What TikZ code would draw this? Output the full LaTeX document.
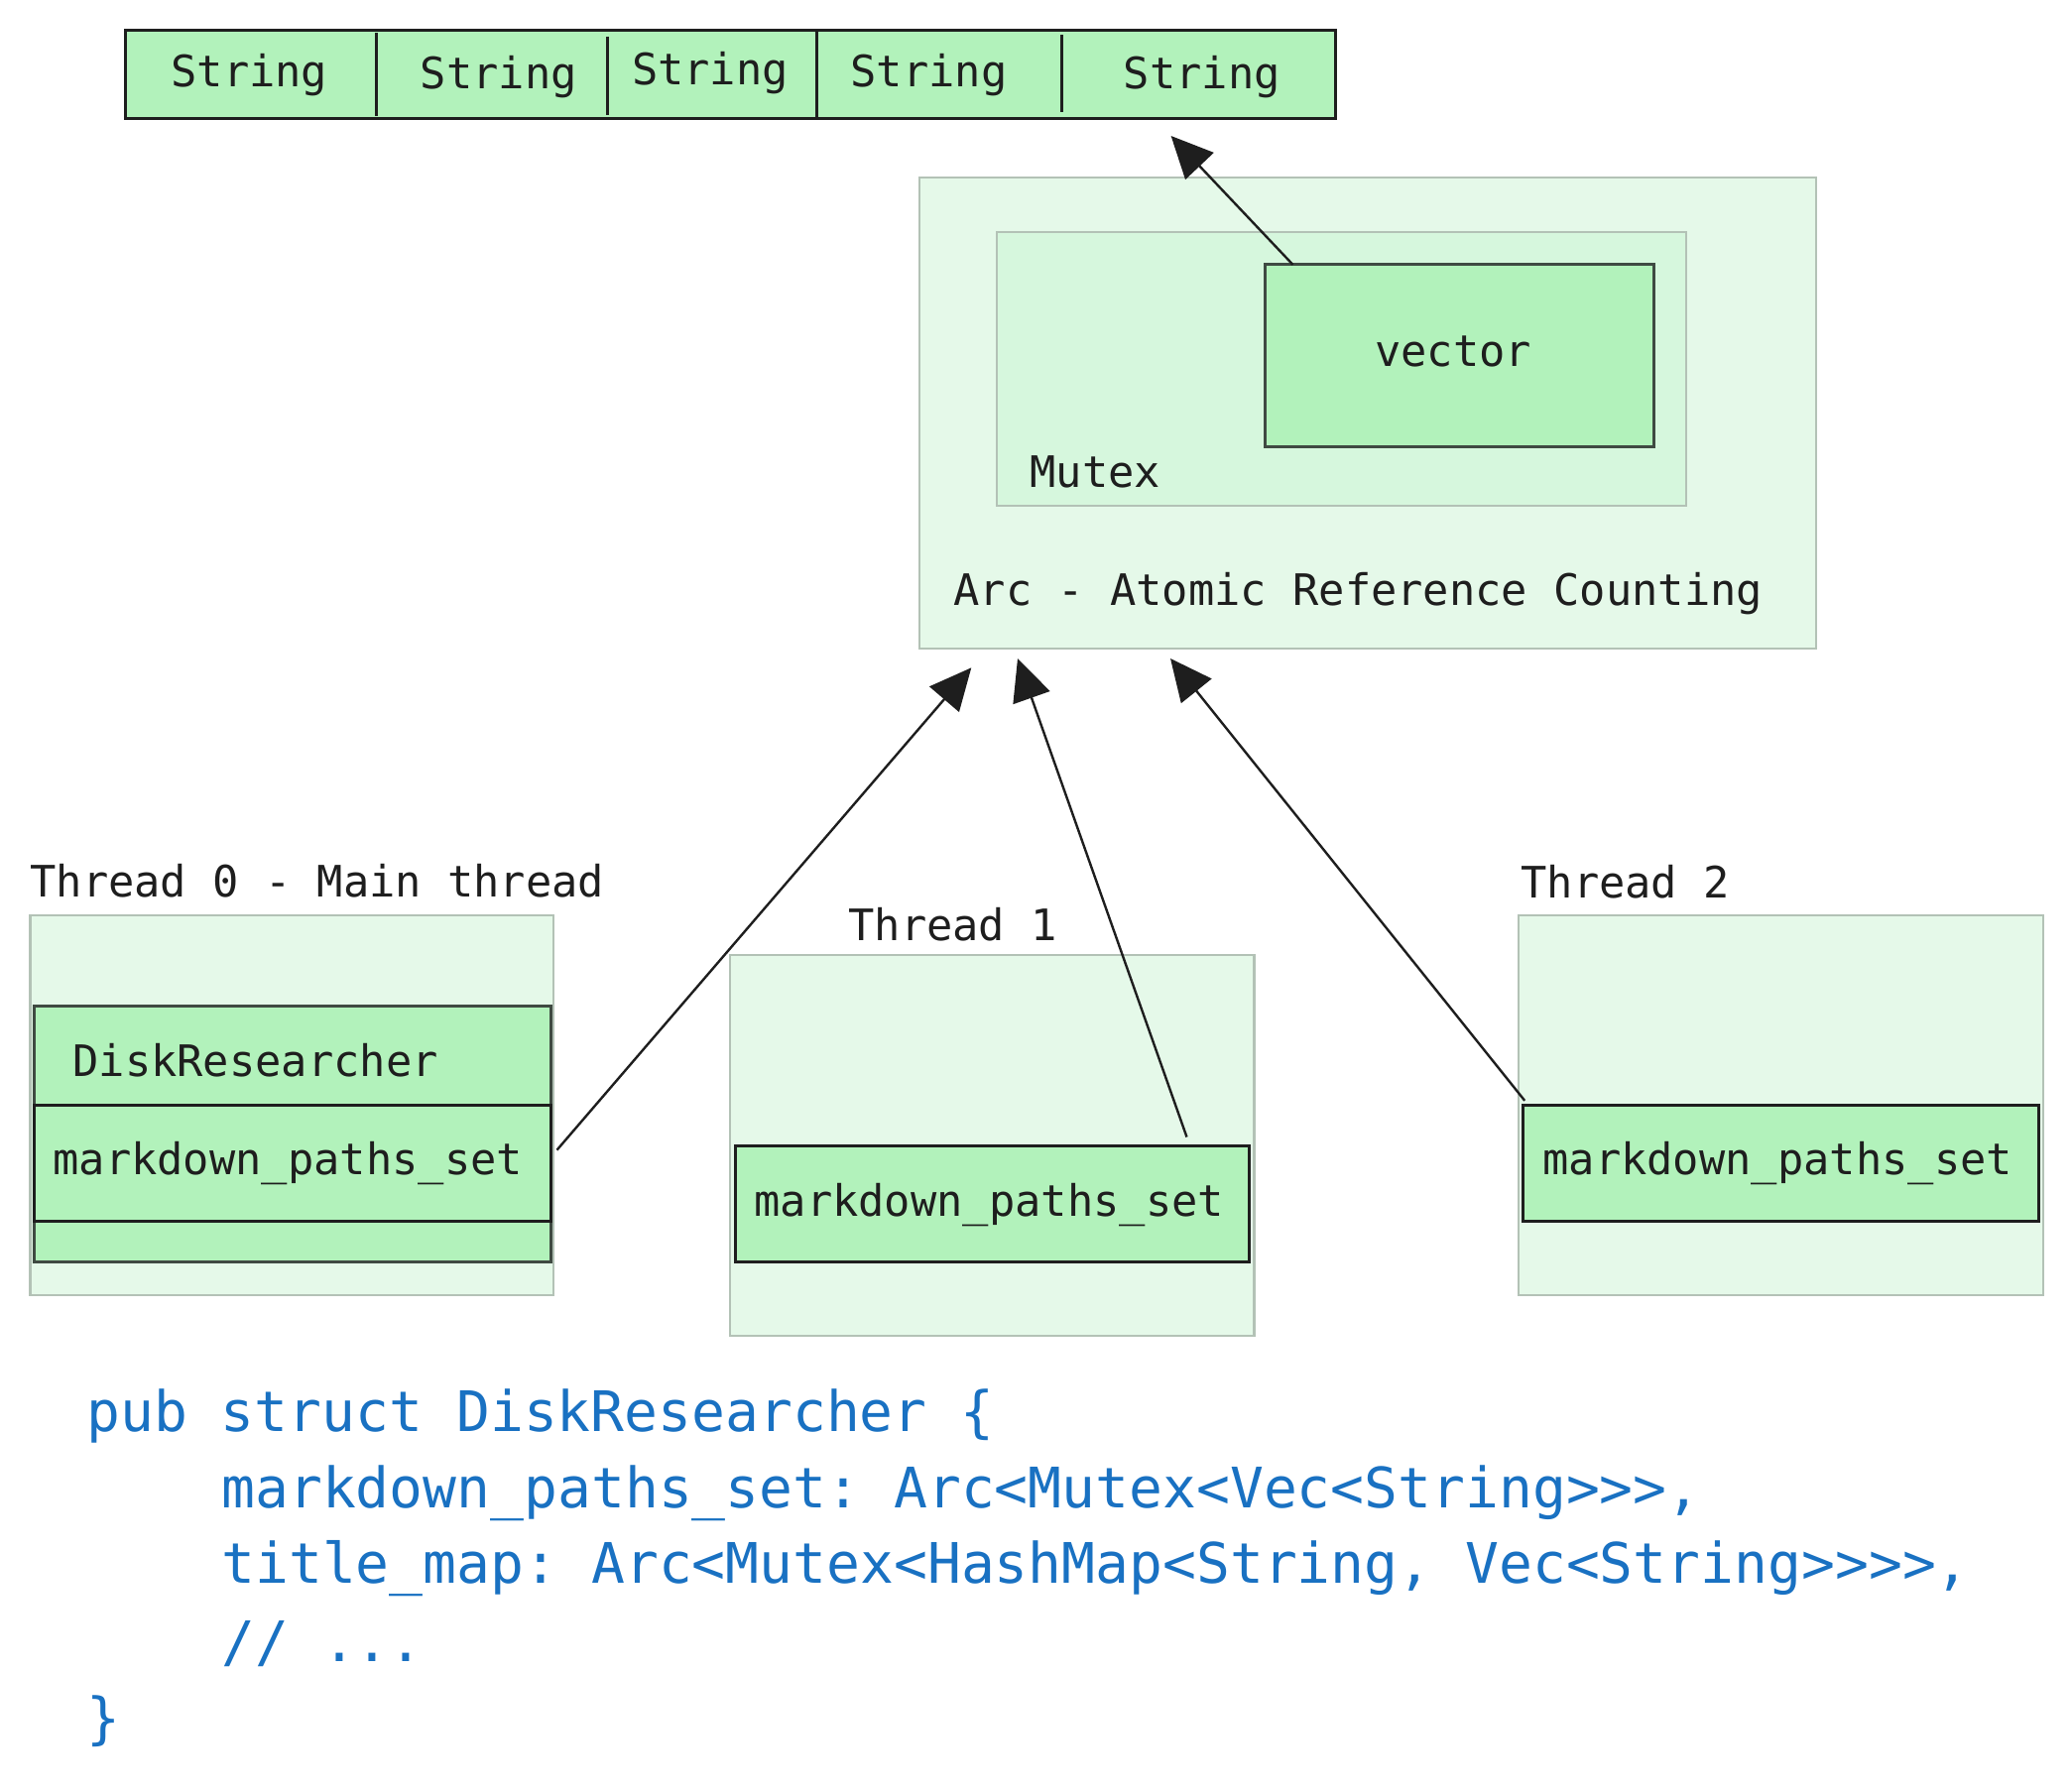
\documentclass[tikz,border=0pt]{standalone}
\usepackage{fontspec}
\setmainfont{DejaVu Sans Mono}[Ligatures=TeXOff]
\usetikzlibrary{arrows.meta,fit}
\frenchspacing
\definecolor{ink}{HTML}{1E1E1E}
\definecolor{nodefill}{HTML}{B2F2BB}
\definecolor{contfill}{HTML}{E5F9E9}
\definecolor{mutexfill}{HTML}{D6F7DD}
\definecolor{contline}{HTML}{B3C2B6}
\definecolor{darkline}{HTML}{3F4A42}
\definecolor{codeblue}{HTML}{1971C2}
\newcommand{\dtext}{\fontsize{21.85pt}{26pt}\selectfont}
\newcommand{\ctext}{\fontsize{28.15pt}{34pt}\selectfont}
\begin{document}
\begin{tikzpicture}[x=0.5pt,y=-0.5pt,
  cont/.style={draw=contline, fill=contfill, line width=1.1pt, inner sep=0pt},
  elem/.style={draw=ink, fill=nodefill, line width=1.5pt, inner sep=0pt},
  lbl/.style={anchor=base west, inner sep=0pt, text=ink, font=\dtext},
  codeline/.style={anchor=base west, inner sep=0pt, text=codeblue, font=\ctext},
  conn/.style={-{Triangle[length=21pt,width=19.5pt]}, line width=1.2pt, draw=ink}]
\useasboundingbox (0,0) rectangle (2089,1805);

% Strings vector contents
\node[elem, fit={(126.5,30.7) (1346,119)}] (strings) {};
\draw[ink, line width=1.5pt] (379.4,33) -- (379.4,117);
\draw[ink, line width=1.5pt] (612.4,36.7) -- (612.4,115.7);
\draw[ink, line width=1.5pt] (823,30.7) -- (823,119);
\draw[ink, line width=1.5pt] (1070,35) -- (1070,113);
\node[lbl] (s1) at (172,87.3) {String};
\node[lbl] (s2) at (423.5,89.3) {String};
\node[lbl] (s3) at (636.6,85.7) {String};
\node[lbl] (s4) at (857.2,87.3) {String};
\node[lbl] (s5) at (1132.5,89.3) {String};

% Arc / Mutex / vector
\node[cont, fit={(927,179) (1831,653.6)}] (arc) {};
\node[cont, fill=mutexfill, fit={(1005,233.6) (1700,510)}] (mutex) {};
\node[elem, draw=darkline, fit={(1275,266.4) (1667,450.4)}] (vec) {};
\node[lbl, anchor=base] (vectxt) at (1465,369) {vector};
\node[lbl] (mutextxt) at (1038,491.4) {Mutex};
\node[lbl] (arctxt) at (961,610.4) {Arc - Atomic Reference Counting};

% Thread 0
\node[cont, fit={(30.5,922.7) (558,1305.7)}] (th0) {};
\node[lbl] (th0txt) at (30,904) {Thread 0 - Main thread};
\node[elem, draw=darkline, fit={(34,1014) (555,1272.7)}] (disk) {};
\node[elem, fit={(34,1114.3) (555,1231)}] (mps0) {};
\node[lbl] (disktxt) at (73,1085) {DiskResearcher};
\node[lbl] (mps0txt) at (53,1184) {markdown\_paths\_set};

% Thread 1
\node[cont, fit={(736,963.3) (1264.5,1346.7)}] (th1) {};
\node[lbl] (th1txt) at (855,948) {Thread 1};
\node[elem, fit={(741,1155) (1259,1272.4)}] (mps1) {};
\node[lbl] (mps1txt) at (760,1226) {markdown\_paths\_set};

% Thread 2
\node[cont, fit={(1530.8,922.7) (2059.7,1305.7)}] (th2) {};
\node[lbl] (th2txt) at (1533,905) {Thread 2};
\node[elem, fit={(1535.7,1114.3) (2055.2,1231.7)}] (mps2) {};
\node[lbl] (mps2txt) at (1555,1184.3) {markdown\_paths\_set};

% arrow tips
\coordinate (tipS) at (1180.6,137);
\coordinate (tip0) at (979.3,673.3);
\coordinate (tip1) at (1026,664);
\coordinate (tip2) at (1180,664);

\draw[conn] ([shift={(30,2)}]vec.north west) -- (tipS);
\draw[conn] ([shift={(5,-13)}]mps0.east) -- (tip0);
\draw[conn] ([shift={(-64,-7)}]mps1.north east) -- (tip1);
\draw[conn] ([shift={(3,-3)}]mps2.north west) -- (tip2);

% code
\node[codeline] (c1) at (87,1443.3) {pub struct DiskResearcher \{};
\node[codeline] (c2) at (223,1520) {markdown\_paths\_set: Arc<Mutex<Vec<String>>>,};
\node[codeline] (c3) at (223,1596.7) {title\_map: Arc<Mutex<HashMap<String, Vec<String>>>>,};
\node[codeline] (c4) at (223,1675) {// ...};
\node[codeline] (c5) at (87,1752) {\}};
\end{tikzpicture}
\end{document}
